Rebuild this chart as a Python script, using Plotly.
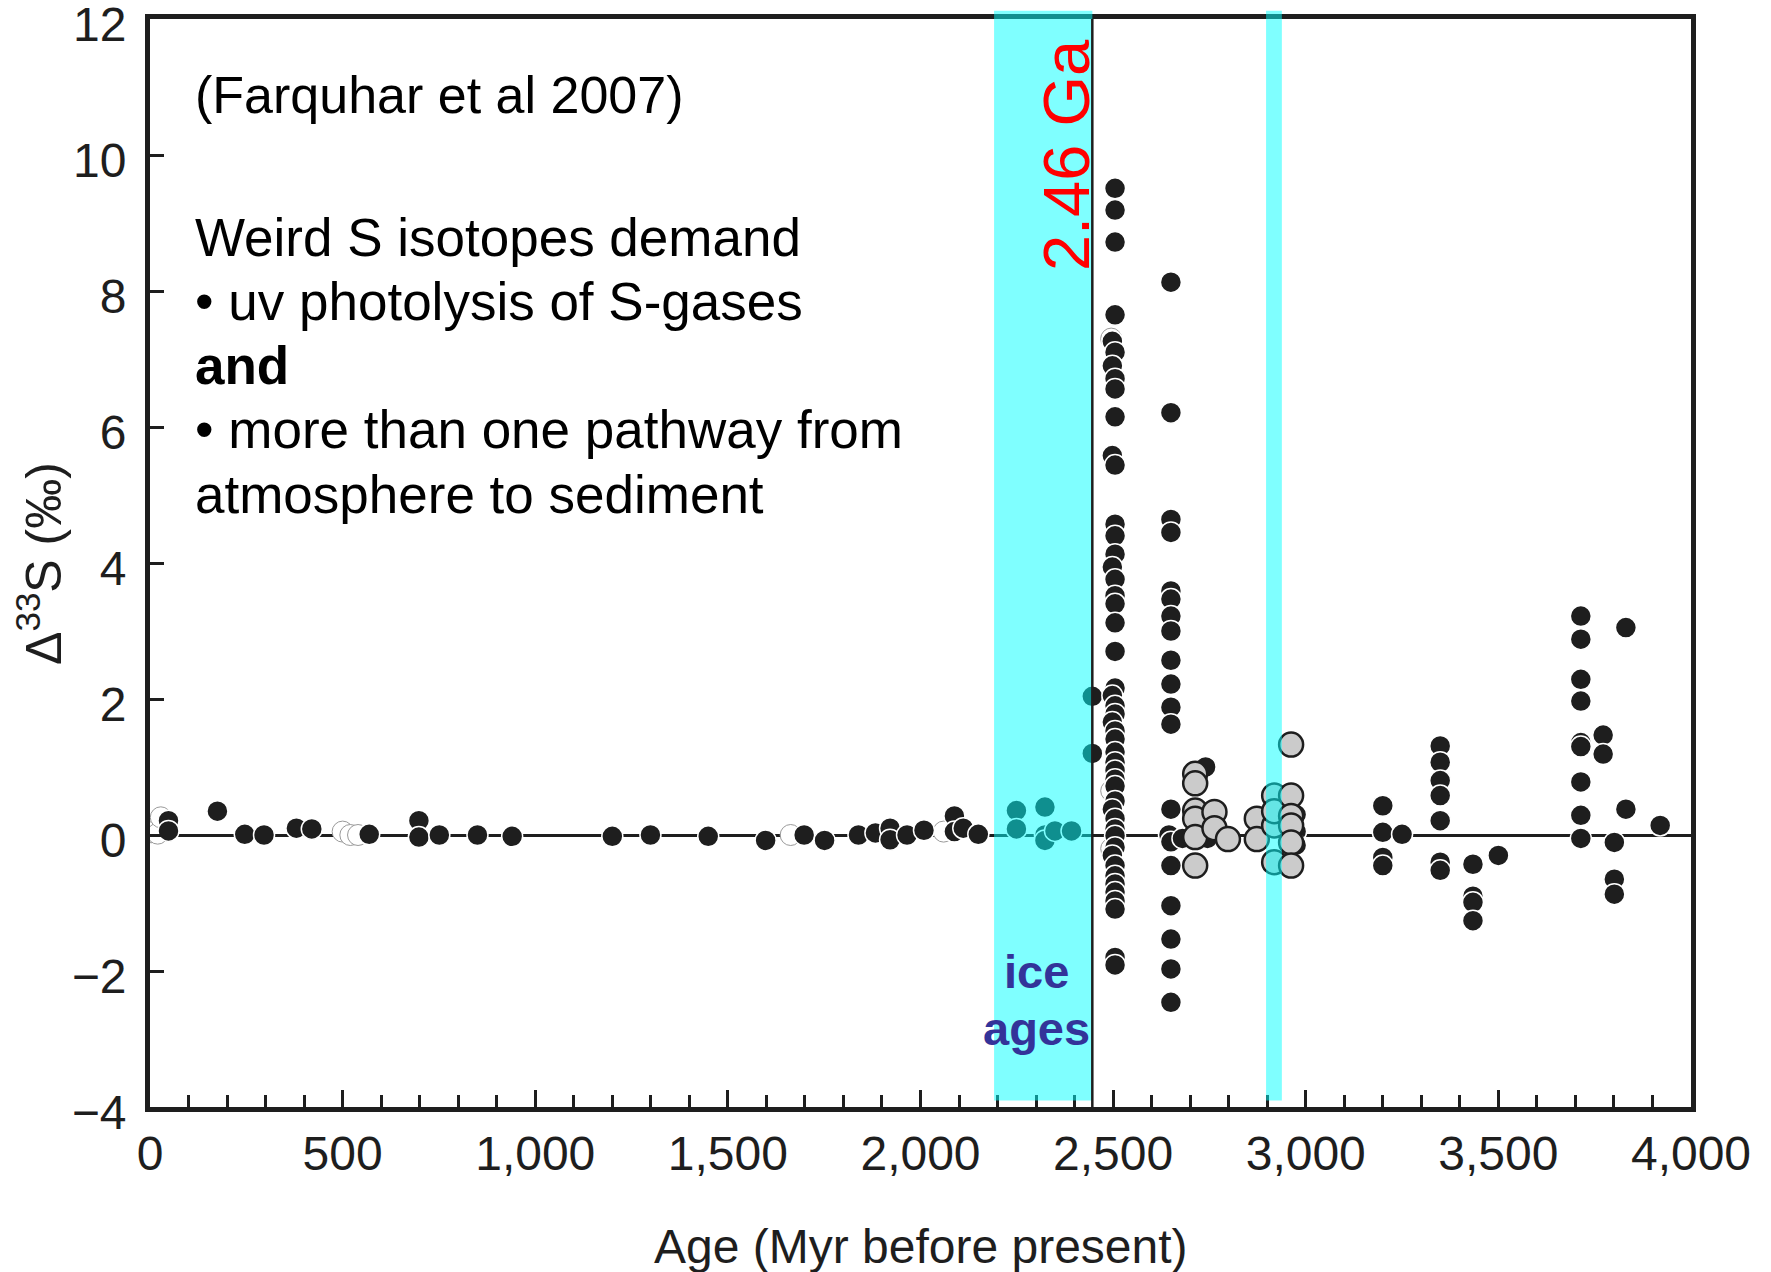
import plotly.graph_objects as go

# Δ33S measurements (age in Myr before present, Δ33S in per mil)
black_age = [
    48, 48, 175, 246, 296, 380, 420, 569, 698, 698, 751, 850, 940,
    1200, 1299, 1449, 1598, 1698, 1751, 1839, 1883, 1921, 1921, 1965, 2009,
    2088, 2088, 2111, 2150,
    2249, 2249, 2323, 2323, 2323, 2349, 2392,
    2446, 2446,
    # ~2.5 Ga column
    2505, 2505, 2505, 2505, 2498, 2505, 2498, 2505, 2505, 2505, 2498, 2505,
    2505, 2505, 2505, 2498, 2505, 2505,
    2505, 2505, 2505, 2505, 2498, 2505, 2505, 2498, 2505, 2505, 2505, 2505,
    2505, 2505, 2505, 2505, 2498, 2505, 2505, 2505, 2505, 2498, 2505, 2505,
    2505, 2505, 2505, 2505, 2505, 2505,
    # ~2.65 Ga column
    2650, 2650, 2650, 2650, 2650, 2650, 2650, 2650, 2650, 2650, 2650, 2650,
    2650, 2645, 2650, 2650, 2650, 2650, 2650, 2650,
    2680, 2730, 2740, 2745, 2770, 2975, 2975, 2975,
    3200, 3200, 3200, 3200, 3250,
    3349, 3349, 3349, 3349, 3349, 3349, 3349,
    3434, 3434, 3434, 3434, 3500,
    3714, 3714, 3714, 3714, 3714, 3714, 3714, 3714, 3714,
    3772, 3772, 3801, 3801, 3801, 3831, 3831, 3920,
]
black_d33s = [
    0.21, 0.06, 0.35, 0.01, 0.00, 0.10, 0.09, 0.01, 0.21, -0.03, 0.00, 0.00, -0.02,
    -0.02, 0.00, -0.02, -0.08, 0.00, -0.08, 0.00, 0.03, 0.10, -0.07, 0.00, 0.07,
    0.28, 0.05, 0.10, 0.01,
    0.36, 0.09, 0.41, 0.00, -0.08, 0.06, 0.06,
    2.04, 1.20,
    9.51, 9.19, 8.72, 7.65, 7.26, 7.10, 6.90, 6.71, 6.56, 6.15, 5.58, 5.44,
    4.57, 4.40, 4.13, 3.94, 3.76, 3.52,
    3.40, 3.12, 2.70, 2.16, 2.05, 1.90, 1.78, 1.66, 1.53, 1.41, 1.22, 1.07,
    0.95, 0.82, 0.72, 0.50, 0.38, 0.24, 0.09, -0.01, -0.18, -0.30, -0.45, -0.60,
    -0.72, -0.84, -0.97, -1.09, -1.80, -1.91,
    8.13, 6.21, 4.64, 4.45, 3.59, 3.47, 3.22, 3.00, 2.57, 2.22, 1.88, 1.63,
    0.38, 0.00, -0.10, -0.45, -1.04, -1.53, -1.97, -2.46,
    -0.05, 0.00, 1.00, -0.05, 0.10, 0.30, 0.05, -0.15,
    0.43, 0.04, -0.33, -0.45, 0.01,
    1.31, 1.07, 0.80, 0.58, 0.21, -0.40, -0.52,
    -0.43, -0.90, -0.99, -1.26, -0.30,
    3.22, 2.88, 2.29, 1.97, 1.36, 1.30, 0.78, 0.29, -0.05,
    1.47, 1.19, -0.11, -0.65, -0.87, 3.05, 0.38, 0.14,
]

grey_age = [
    2713, 2713, 2713, 2713, 2713, 2713, 2763, 2763, 2798,
    2873, 2873, 2918, 2918, 2918, 2918,
    2962, 2962, 2962, 2962, 2962, 2962,
]
grey_d33s = [
    0.90, 0.76, 0.36, 0.24, -0.03, -0.45, 0.34, 0.10, -0.06,
    0.24, -0.06, 0.58, 0.14, -0.40, 0.35,
    1.33, 0.58, 0.28, 0.14, -0.11, -0.45,
]

open_age = [3, 20, 28, 500, 520, 540, 1663, 2060, 2495, 2495, 2495]
open_d33s = [0.04, 0.02, 0.26, 0.05, 0.00, 0.00, 0.00, 0.05, 7.30, 0.65, -0.20]

x_ticks = [0, 500, 1000, 1500, 2000, 2500, 3000, 3500, 4000]
y_ticks = [-4, -2, 0, 2, 4, 6, 8, 10, 12]

ice_age_bands = [(2191, 2446), (2897, 2938)]
boundary_age = 2446

FONT = "Arial, Liberation Sans, sans-serif"
INK = "#1e1e1e"

fig = go.Figure()

fig.add_trace(go.Scatter(
    x=open_age, y=open_d33s, mode="markers",
    marker=dict(size=21, color="white", line=dict(color="#9a9a9a", width=1)),
    showlegend=False, hoverinfo="skip"))
fig.add_trace(go.Scatter(
    x=black_age, y=black_d33s, mode="markers",
    marker=dict(size=21, color=INK, line=dict(color="white", width=1.5)),
    showlegend=False))
fig.add_trace(go.Scatter(
    x=grey_age, y=grey_d33s, mode="markers",
    marker=dict(size=24, color="#cbcbcb", line=dict(color=INK, width=2.5)),
    showlegend=False))

# translucent cyan bands for glaciation intervals, laid over the data
for x0, x1 in ice_age_bands:
    fig.add_shape(type="rect", xref="x", yref="paper", x0=x0, x1=x1,
                  y0=0.006, y1=1.0075, fillcolor="rgba(0,255,255,0.5)",
                  line=dict(width=0), layer="above")
fig.add_shape(type="line", xref="x", yref="paper", x0=boundary_age, x1=boundary_age,
              y0=0, y1=1, line=dict(color=INK, width=2.5), layer="above")

notes = [
    ("(Farquhar et al 2007)", 10.88, 52, False),
    ("Weird S isotopes demand", 8.79, 53, False),
    ("\u2022 uv photolysis of S-gases", 7.84, 53, False),
    ("and", 6.90, 53, True),
    ("\u2022 more than one pathway from", 5.96, 53, False),
    ("atmosphere to sediment", 5.01, 53, False),
]
for txt, yv, fs, bold in notes:
    fig.add_annotation(x=112, y=yv, xref="x", yref="y", text=f"<b>{txt}</b>" if bold else txt,
                       showarrow=False, xanchor="left", yanchor="middle",
                       font=dict(family=FONT, size=fs, color="black"))

fig.add_annotation(x=2378, y=10.0, xref="x", yref="y", text="2.46 Ga", textangle=-90,
                   showarrow=False, xanchor="center", yanchor="middle",
                   font=dict(family=FONT, size=65, color="#ff0000"))
fig.add_annotation(x=2300, y=-2.0, xref="x", yref="y", text="<b>ice</b>",
                   showarrow=False, xanchor="center", yanchor="middle",
                   font=dict(family=FONT, size=47, color="#333399"))
fig.add_annotation(x=2300, y=-2.85, xref="x", yref="y", text="<b>ages</b>",
                   showarrow=False, xanchor="center", yanchor="middle",
                   font=dict(family=FONT, size=47, color="#333399"))

# axis titles
fig.add_annotation(x=-0.0714, y=4.0, xref="paper", yref="y",
                   text="\u0394<sup>33</sup>S (\u2030)", textangle=-90, showarrow=False,
                   xanchor="center", yanchor="middle",
                   font=dict(family=FONT, size=50, color=INK))
fig.add_annotation(x=2000, y=-0.128, xref="x", yref="paper",
                   text="Age (Myr before present)", showarrow=False,
                   xanchor="center", yanchor="middle",
                   font=dict(family=FONT, size=48, color=INK))

fig.update_xaxes(
    range=[0, 4000], tickvals=x_ticks, tickformat=",d",
    ticks="inside", ticklen=17, tickwidth=3, tickcolor=INK,
    minor=dict(dtick=100, ticks="inside", ticklen=12, tickwidth=3, tickcolor=INK),
    showline=True, linewidth=5, linecolor=INK, mirror=True,
    showgrid=False, zeroline=False,
    tickfont=dict(family=FONT, size=48, color=INK), ticklabelstandoff=0,
    ticklabeloverflow="allow", automargin=False,
)
fig.update_yaxes(
    range=[-4, 12], tickvals=y_ticks,
    ticks="inside", ticklen=14, tickwidth=3, tickcolor=INK,
    showline=True, linewidth=5, linecolor=INK, mirror=True,
    showgrid=False, zeroline=True, zerolinecolor=INK, zerolinewidth=3,
    tickfont=dict(family=FONT, size=48, color=INK), ticklabelstandoff=9,
    ticklabelshift=5, ticklabeloverflow="allow", automargin=False,
)

fig.update_layout(
    width=1771, height=1272,
    margin=dict(l=150, r=80, t=19, b=165, autoexpand=False),
    paper_bgcolor="white", plot_bgcolor="white",
    separators=".,",
)

fig.write_html("out.html")
